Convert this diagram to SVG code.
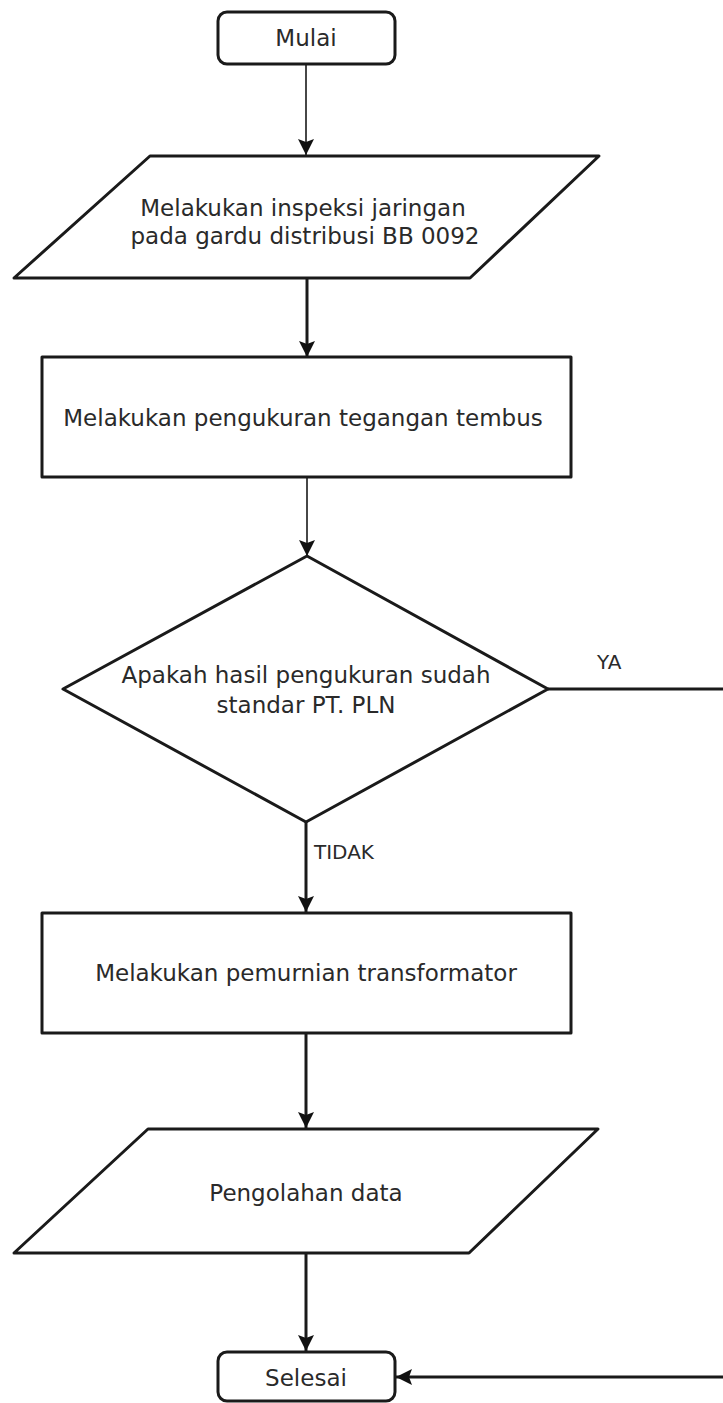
<svg xmlns="http://www.w3.org/2000/svg" width="723" height="1403" viewBox="0 0 723 1403">
<style>
.shape{fill:#fff;stroke:#1a1a1a;stroke-width:3;stroke-linejoin:round}
.t{font-family:"DejaVu Sans","Verdana",sans-serif;font-size:23px;fill:#2a2a2a;text-anchor:middle;dominant-baseline:central}
.lbl{font-family:"DejaVu Sans","Verdana",sans-serif;font-size:20px;fill:#2a2a2a;dominant-baseline:central}
.c{fill:none;stroke:#1a1a1a;stroke-width:3}
.thin{fill:none;stroke:#333;stroke-width:1.8}
</style>
<defs>
<marker id="ah" viewBox="0 0 16 16" refX="16" refY="8" markerWidth="16" markerHeight="16" markerUnits="userSpaceOnUse" orient="auto">
<path d="M0,0 L16,8 L0,16 L3,8 Z" fill="#111"/>
</marker>
</defs>
<rect width="723" height="1403" fill="#fff"/>
<g id="connectors">
<line class="thin" x1="306" y1="64" x2="306" y2="155" marker-end="url(#ah)"/>
<line class="c" x1="307" y1="278" x2="307" y2="357" marker-end="url(#ah)"/>
<line class="thin" x1="307" y1="477" x2="307" y2="556" marker-end="url(#ah)"/>
<line class="c" x1="548" y1="689" x2="723" y2="689"/>
<line class="c" x1="306" y1="822" x2="306" y2="912" marker-end="url(#ah)"/>
<line class="c" x1="306" y1="1033" x2="306" y2="1128" marker-end="url(#ah)"/>
<line class="c" x1="306" y1="1253" x2="306" y2="1351" marker-end="url(#ah)"/>
<line class="c" x1="723" y1="1377" x2="396" y2="1377" marker-end="url(#ah)"/>
<text class="lbl" x="597" y="662">YA</text>
<text class="lbl" x="314" y="852">TIDAK</text>
</g>
<g id="mulai">
<rect class="shape" x="218" y="12" width="177" height="52" rx="9"/>
<text class="t" x="306" y="38">Mulai</text>
</g>
<g id="inspeksi">
<path class="shape" d="M150,156 L599,156 L470,278 L14,278 Z"/>
<text class="t" x="303" y="208">Melakukan inspeksi jaringan</text>
<text class="t" x="305" y="236">pada gardu distribusi BB 0092</text>
</g>
<g id="pengukuran">
<rect class="shape" x="42" y="357" width="529" height="120"/>
<text class="t" x="303" y="418">Melakukan pengukuran tegangan tembus</text>
</g>
<g id="keputusan">
<path class="shape" d="M307,556 L548,689 L306,822 L63,689 Z"/>
<text class="t" x="306" y="675">Apakah hasil pengukuran sudah</text>
<text class="t" x="306" y="705">standar PT. PLN</text>
</g>
<g id="pemurnian">
<rect class="shape" x="42" y="913" width="529" height="120"/>
<text class="t" x="306" y="973">Melakukan pemurnian transformator</text>
</g>
<g id="pengolahan">
<path class="shape" d="M148,1129 L598,1129 L469,1253 L14,1253 Z"/>
<text class="t" x="306" y="1193">Pengolahan data</text>
</g>
<g id="selesai">
<rect class="shape" x="218" y="1352" width="177" height="49" rx="9"/>
<text class="t" x="306" y="1378">Selesai</text>
</g>
</svg>
